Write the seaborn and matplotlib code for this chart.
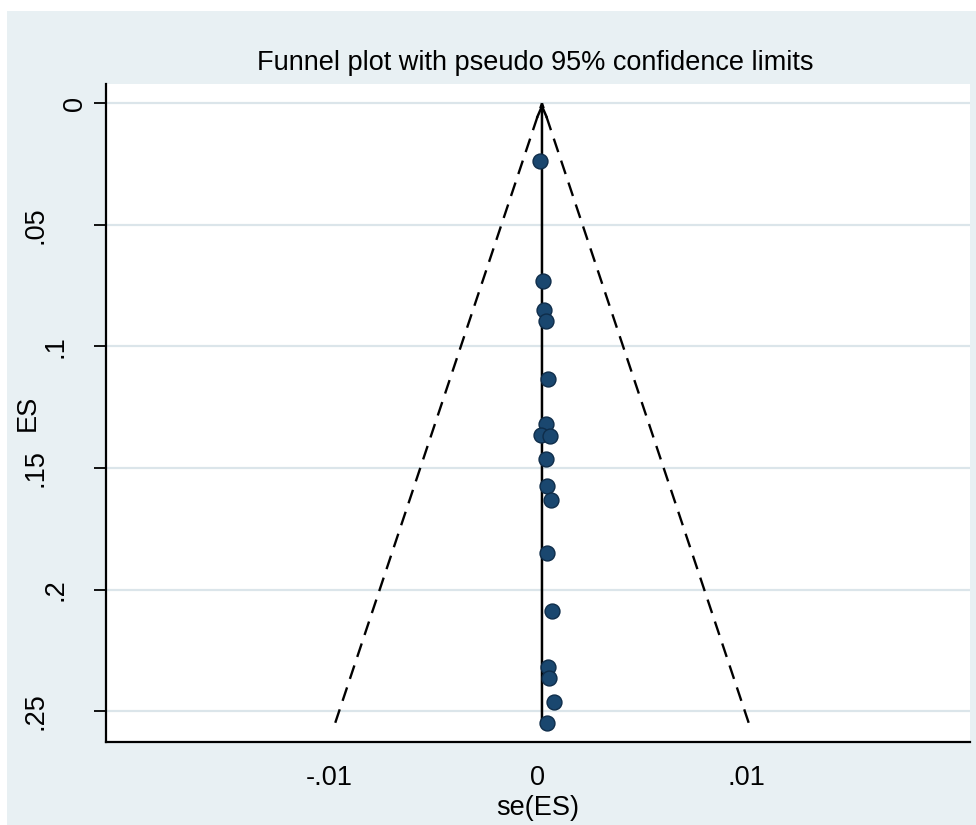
import matplotlib
matplotlib.use("Agg")
import matplotlib.pyplot as plt
from matplotlib.patches import Rectangle
import seaborn as sns
import pandas as pd

# study points
se_es = [0.00010, 0.00026, 0.00030, 0.00038, 0.00050, 0.00039, 0.00015, 0.00058, 0.00039,
         0.00043, 0.00062, 0.00045, 0.00067, 0.00049, 0.00052, 0.00076, 0.00043]
es = [0.0237, 0.0731, 0.0850, 0.0895, 0.1135, 0.1319, 0.1364, 0.1368, 0.1462,
      0.1573, 0.1631, 0.1850, 0.2086, 0.2317, 0.2364, 0.2461, 0.2547]

# pooled line and pseudo 95% limits
pooled = 0.0002
funnel_left = [-0.0097, 0.0002]
funnel_right = [0.0101, 0.0002]
funnel_es = [0.2547, 0.0]

yticks = [0, 0.05, 0.1, 0.15, 0.2, 0.25]
ytick_labels = ["0", ".05", ".1", ".15", ".2", ".25"]
xticks = [-0.01, 0, 0.01]
xtick_labels = ["-.01", "0", ".01"]

sns.set_style("white")
plt.rcParams["font.family"] = ["Liberation Sans", "DejaVu Sans"]
plt.rcParams["text.color"] = "black"
plt.rcParams["xtick.color"] = "black"
plt.rcParams["ytick.color"] = "black"
plt.rcParams["axes.labelcolor"] = "black"

bg = "#e8f0f3"
grid_col = "#dbe5ea"
navy = "#1a476f"
fs = 19.5

fig = plt.figure(figsize=(9.76, 8.25), dpi=100, facecolor="white")
fig.patches.append(Rectangle((7 / 976, -0.01), 1, 1.01 - 11 / 825, transform=fig.transFigure,
                             facecolor=bg, edgecolor="none", zorder=-10))
ax = fig.add_axes([106 / 976, 1 - 742 / 825, 864 / 976, 658 / 825])
ax.set_facecolor("white")

for y in yticks:
    ax.axhline(y, color=grid_col, lw=1.6, zorder=0)

ax.plot(funnel_left, funnel_es, color="black", lw=1.7, linestyle=(0, (6, 3.8)), zorder=2)
ax.plot(funnel_right, funnel_es, color="black", lw=1.7, linestyle=(0, (6, 3.8)), zorder=2)
ax.annotate("", xy=(pooled, 0), xytext=(pooled, max(es)),
            arrowprops=dict(arrowstyle="->,head_length=0.8,head_width=0.35", color="black",
                            lw=1.8, shrinkA=0, shrinkB=0), zorder=3)

df = pd.DataFrame({"se": se_es, "es": es})
sns.scatterplot(data=df, x="se", y="es", ax=ax, s=115, color=navy,
                edgecolor="#0f2d4a", linewidth=1.0, zorder=4)

ax.set_xlim(-0.02068, 0.0207)
ax.set_ylim(0.2626, -0.0079)

ax.set_xticks(xticks)
ax.set_xticklabels(xtick_labels, fontsize=fs)
ax.set_yticks(yticks)
ax.set_yticklabels([])
ax.tick_params(axis="both", direction="out", length=8.5, width=1.3, color="black")
ax.tick_params(axis="x", pad=8)
ax.tick_params(axis="y", left=True)

# rotated y labels, placed like the Stata output
for y, lab in zip(yticks, ytick_labels):
    ax.annotate(lab, xy=(0, y), xycoords=("axes fraction", "data"),
                xytext=(-(11 + 19.7 * len(lab)), 0), textcoords="offset pixels",
                rotation=90, ha="center", va="center", fontsize=fs, color="black")

for side in ["top", "right"]:
    ax.spines[side].set_visible(False)
for side in ["left", "bottom"]:
    ax.spines[side].set_color("black")
    ax.spines[side].set_linewidth(1.6)

ax.set_xlabel("se(ES)", fontsize=fs, labelpad=3, color="black")
ax.set_ylabel("")
fig.text(28 / 976, 1 - 413 / 825, "ES", rotation=90, ha="center", va="center",
         fontsize=fs, color="black")
fig.text(535 / 976, 1 - 63 / 825, "Funnel plot with pseudo 95% confidence limits",
         ha="center", va="center", fontsize=fs, color="black")

fig.savefig("out.png", dpi=100, facecolor="white")
